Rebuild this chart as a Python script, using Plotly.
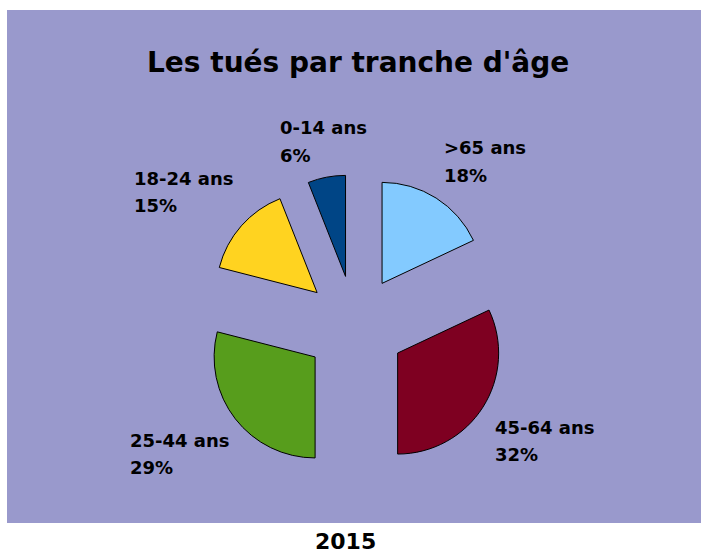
import plotly.graph_objects as go

# data
age_groups = [">65 ans", "45-64 ans", "25-44 ans", "18-24 ans", "0-14 ans"]
shares = [18, 32, 29, 15, 6]
slice_colors = ["#83caff", "#7e0021", "#579d1c", "#ffd320", "#004586"]

W, H = 701, 555

# label anchor (left x, centre y of first line), in window pixels
label_pos = [(442, 148), (493, 427), (128, 440), (132, 178), (278, 128)]
line_gap = 27

def px(x):
    return x / W

def py(y):
    return 1 - y / H

fig = go.Figure()

# pie centre ~ (355, 326), radius ~101, pull 0.5 -> box 303px
cx, cy, box = 355, 326, 303
fig.add_trace(go.Pie(
    labels=age_groups,
    values=shares,
    sort=False,
    direction="clockwise",
    rotation=0,
    pull=[0.5] * len(shares),
    marker=dict(colors=slice_colors, line=dict(color="black", width=1)),
    textinfo="none",
    hoverinfo="label+percent",
    showlegend=False,
    domain=dict(x=[px(cx - box / 2), px(cx + box / 2)],
                y=[py(cy + box / 2), py(cy - box / 2)]),
))

# purple chart area
fig.add_shape(type="rect", xref="paper", yref="paper",
              x0=px(7), x1=1, y0=py(523), y1=py(10),
              fillcolor="#9999cc", line=dict(width=0), layer="below")

font_bold = "DejaVu Sans"

fig.add_annotation(x=px(358), y=py(63), xref="paper", yref="paper",
                   text="<b>Les tués par tranche d'âge</b>", showarrow=False,
                   font=dict(family=font_bold, size=28, color="black"),
                   xanchor="center", yanchor="middle")

fig.add_annotation(x=px(345), y=py(541), xref="paper", yref="paper",
                   text="<b>2015</b>", showarrow=False,
                   font=dict(family=font_bold, size=22, color="black"),
                   xanchor="center", yanchor="middle")

total = sum(shares)
for name, val, (lx, ly) in zip(age_groups, shares, label_pos):
    pct = round(100 * val / total)
    for i, line in enumerate([name, f"{pct}%"]):
        fig.add_annotation(x=px(lx), y=py(ly + i * line_gap),
                           xref="paper", yref="paper",
                           text=f"<b>{line}</b>", showarrow=False,
                           font=dict(family=font_bold, size=18, color="black"),
                           xanchor="left", yanchor="middle")

fig.update_layout(
    width=W, height=H,
    margin=dict(l=0, r=0, t=0, b=0),
    paper_bgcolor="white",
    plot_bgcolor="white",
)

# drop the default body margin so the figure fills the window exactly
fig.write_html("out.html",
               config={"displayModeBar": False},
               post_script="document.body.style.margin='0';"
                           "document.documentElement.style.overflow='hidden';")
